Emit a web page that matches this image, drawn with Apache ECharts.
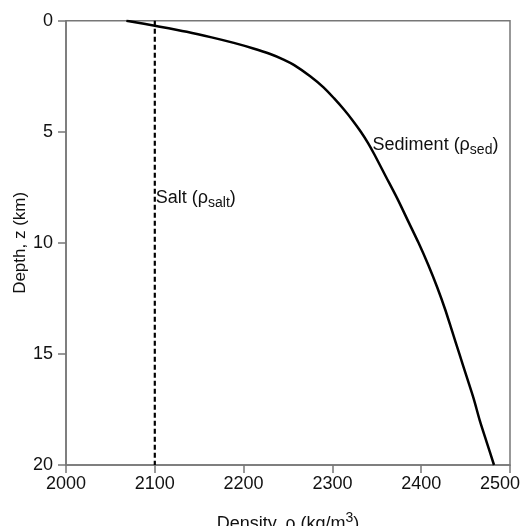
<!DOCTYPE html>
<html>
<head>
<meta charset="utf-8">
<script src="https://cdn.jsdelivr.net/npm/echarts@6/dist/echarts.min.js"></script>
<style>html,body{margin:0;padding:0;background:#fff}#c{width:520px;height:526px}</style>
</head>
<body>
<div id="c"></div>
<script>
// Sediment density profile (depth km -> density kg/m3)
const sedDepth   = [0, 0.25, 0.5, 0.75, 1.0, 1.25, 1.5, 1.75, 2.0, 2.5, 3.0, 3.5, 4.0, 4.5, 5.0, 5.5, 6.0, 7.0, 8.0, 9.0, 10.0, 11.0, 12.0, 13.0, 14.0, 15.0, 16.0, 17.0, 18.0, 19.0, 20.0];
const sedDensity = [2068, 2103, 2136, 2164, 2189, 2211, 2230, 2245, 2257, 2275, 2290, 2302, 2313, 2323, 2332, 2340, 2347, 2360, 2373, 2385, 2397, 2408, 2418, 2427, 2435, 2443, 2451, 2459, 2466, 2474, 2482];
// Salt density (constant)
const saltDepth   = [0, 20];
const saltDensity = [2100, 2100];
// Axis ticks
const xTicks = [2000, 2100, 2200, 2300, 2400, 2500];
const yTicks = [0, 5, 10, 15, 20];
// Label anchors
const saltLabelAt = [2100, 8.0];
const sedLabelAt  = [2343, 5.6];

const FONT = 'Liberation Sans, Arial, sans-serif';
const axisColor = '#777';
const xMax = xTicks[xTicks.length-1];

const chart = echarts.init(document.getElementById('c'), null, {renderer: 'canvas'});
chart.setOption({
  animation: false,
  backgroundColor: '#fff',
  grid: {left: 66, right: 10, top: 20.7, bottom: 61, show: true, borderColor: axisColor, borderWidth: 1.5,
         containLabel: false, outerBoundsMode: 'none'},
  xAxis: {
    type: 'value', min: xTicks[0], max: xMax, interval: 100,
    position: 'bottom',
    name: '{a|Density, ρ (kg/m}{s|3}{a|)}',
    nameLocation: 'middle', nameGap: 46, nameMoveOverlap: false,
    nameTextStyle: {rich: {
      a: {fontFamily: FONT, fontSize: 18, color: '#111', verticalAlign: 'bottom'},
      s: {fontFamily: FONT, fontSize: 14, color: '#111', verticalAlign: 'top', padding: [0,0,8,0]}
    }},
    axisLine: {show: true, onZero: false, lineStyle: {color: axisColor, width: 1.5}},
    axisTick: {show: true, inside: false, length: 8, lineStyle: {color: axisColor, width: 1.5}},
    axisLabel: {
      fontFamily: FONT, fontSize: 18, color: '#111', margin: 10,
      formatter: v => v === xMax ? '{r|' + v + '}' : String(v),
      rich: {r: {fontFamily: FONT, fontSize: 18, color: '#111', padding: [0, 20, 0, 0]}}
    },
    splitLine: {show: false}
  },
  yAxis: {
    type: 'value', inverse: true, min: yTicks[0], max: yTicks[yTicks.length-1], interval: 5,
    name: 'Depth, z (km)', nameLocation: 'middle', nameGap: 37, nameRotate: 90, nameMoveOverlap: false,
    nameTextStyle: {fontFamily: FONT, fontSize: 17, color: '#111'},
    axisLine: {show: true, onZero: false, lineStyle: {color: axisColor, width: 1.5}},
    axisTick: {show: true, inside: false, length: 8, lineStyle: {color: axisColor, width: 1.5}},
    axisLabel: {fontFamily: FONT, fontSize: 18, color: '#111', margin: 13, formatter: v => String(v)},
    splitLine: {show: false}
  },
  series: [
    {
      type: 'line', name: 'Sediment',
      data: sedDepth.map((d, i) => [sedDensity[i], d]),
      showSymbol: false, smooth: 0.3,
      lineStyle: {color: '#000', width: 2.5, join: 'round'},
      markPoint: {
        symbol: 'circle', symbolSize: 0,
        data: [{coord: sedLabelAt}],
        label: {
          show: true, position: 'right', distance: 2,
          formatter: '{a|Sediment (ρ}{s|sed}{a|)}',
          rich: {
            a: {fontFamily: FONT, fontSize: 18, color: '#111'},
            s: {fontFamily: FONT, fontSize: 14, color: '#111', padding: [10,0,0,0]}
          }
        }
      }
    },
    {
      type: 'line', name: 'Salt',
      data: saltDepth.map((d, i) => [saltDensity[i], d]),
      showSymbol: false,
      lineStyle: {color: '#000', width: 2.2, type: [5, 3]},
      markPoint: {
        symbol: 'circle', symbolSize: 0,
        data: [{coord: saltLabelAt}],
        label: {
          show: true, position: 'right', distance: 1,
          formatter: '{a|Salt (ρ}{s|salt}{a|)}',
          rich: {
            a: {fontFamily: FONT, fontSize: 18, color: '#111'},
            s: {fontFamily: FONT, fontSize: 14, color: '#111', padding: [10,0,0,0]}
          }
        }
      }
    }
  ]
});
</script>
</body>
</html>
